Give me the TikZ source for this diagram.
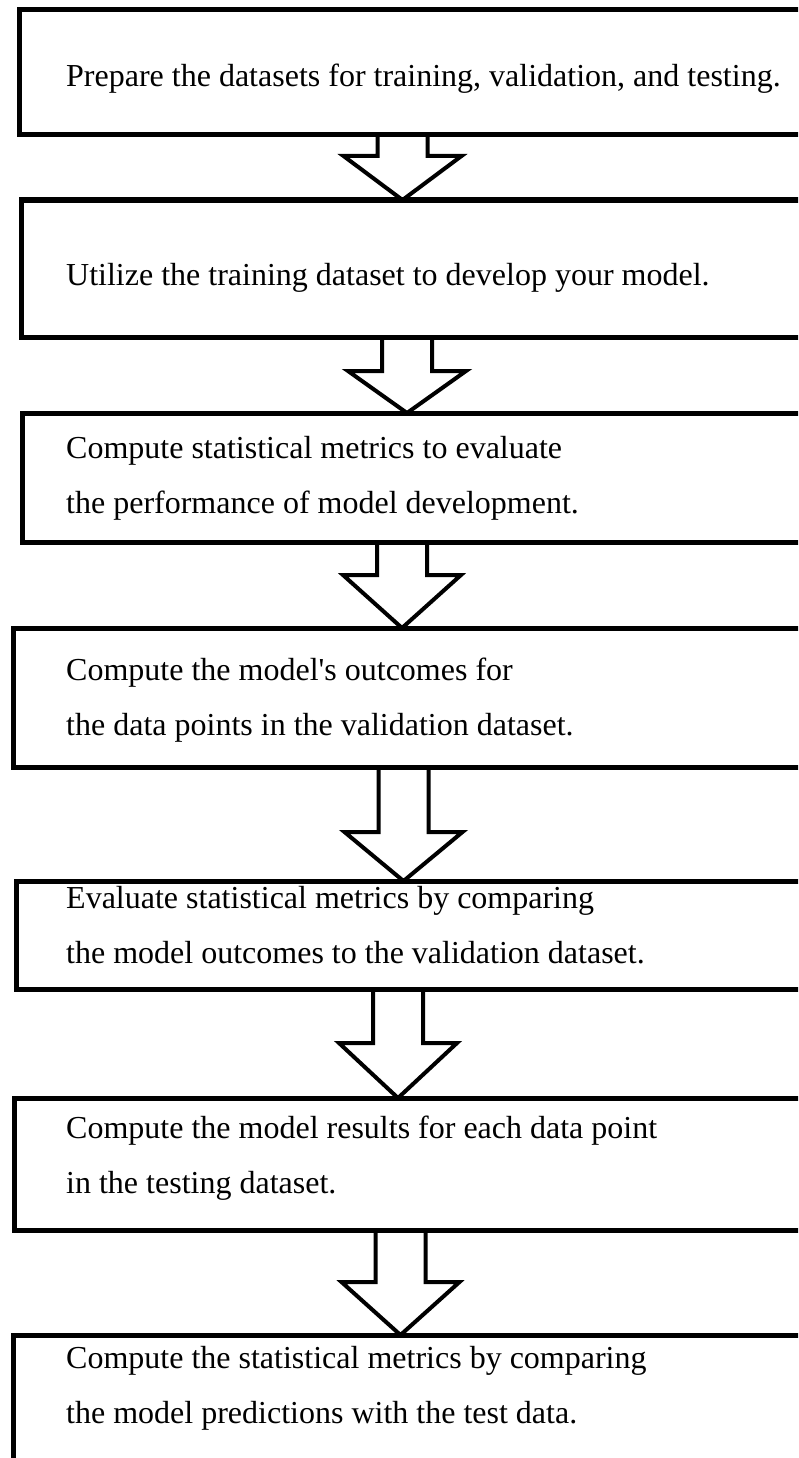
\documentclass[tikz,border=0pt]{standalone}
\usepackage{fontspec}
\setmainfont{Liberation Serif}
\usetikzlibrary{calc}
\tikzset{
  stagebox/.style={draw, line width=5pt, outer sep=0pt, inner sep=0pt,
                   anchor=north west, minimum width=820pt},
  stagetxt/.style={anchor=base west, align=left, inner sep=0pt,
                   font=\fontsize{32}{55}\selectfont},
  hollow/.style={draw, line width=4pt, line join=miter},
}
% hollow down arrow: upper box, lower box, centre, head length
\newcommand{\blockdown}[4]{%
  \draw[hollow] ([xshift=-25pt]#3 |- #1.south)
    -- ([xshift=-25pt,yshift=#4pt]#3 |- #2.north)
    -- ([xshift=-59pt,yshift=#4pt]#3 |- #2.north)
    -- (#3 |- #2.north)
    -- ([xshift=59pt,yshift=#4pt]#3 |- #2.north)
    -- ([xshift=25pt,yshift=#4pt]#3 |- #2.north)
    -- ([xshift=25pt]#3 |- #1.south) -- cycle;}

\begin{document}
\begin{tikzpicture}[x=1pt, y=-1pt]
  \useasboundingbox (0,0) rectangle (798,1458);
  \clip (0,0) rectangle (798,1458);
  % boxes
  \node[stagebox, minimum height=125pt] (s1) at (19,10) {};
  \node[stagebox, minimum height=137pt] (s2) at (21,200) {};
  \node[stagebox, minimum height=129pt] (s3) at (22,413) {};
  \node[stagebox, minimum height=139pt] (s4) at (13,628) {};
  \node[stagebox, minimum height=108pt] (s5) at (16,881) {};
  \node[stagebox, minimum height=132pt] (s6) at (14,1098) {};
  \node[stagebox, minimum height=160pt] (s7) at (13,1335) {};
  % texts (placed at the baseline of the last line)
  \node[stagetxt] (t1) at (66,87) {Prepare the datasets for training, validation, and testing.};
  \node[stagetxt] (t2) at (66,285) {Utilize the training dataset to develop your model.};
  \node[stagetxt] (t3) at (66,513) {Compute statistical metrics to evaluate\\the performance of model development.};
  \node[stagetxt] (t4) at (66,735) {Compute the model\textquotesingle s outcomes for\\the data points in the validation dataset.};
  \node[stagetxt] (t5) at (66,963) {Evaluate statistical metrics by comparing\\the model outcomes to the validation dataset.};
  \node[stagetxt] (t6) at (66,1193) {Compute the model results for each data point\\in the testing dataset.};
  \node[stagetxt] (t7) at (66,1423) {Compute the statistical metrics by comparing\\the model predictions with the test data.};
  % arrows
  \coordinate (c1) at (402.5,0);
  \coordinate (c2) at (407,0);
  \coordinate (c3) at (402,0);
  \coordinate (c4) at (403.5,0);
  \coordinate (c5) at (398,0);
  \coordinate (c6) at (400.5,0);
  \blockdown{s1}{s2}{c1}{44}
  \blockdown{s2}{s3}{c2}{42}
  \blockdown{s3}{s4}{c3}{53}
  \blockdown{s4}{s5}{c4}{49}
  \blockdown{s5}{s6}{c5}{55}
  \blockdown{s6}{s7}{c6}{53}
\end{tikzpicture}
\end{document}
